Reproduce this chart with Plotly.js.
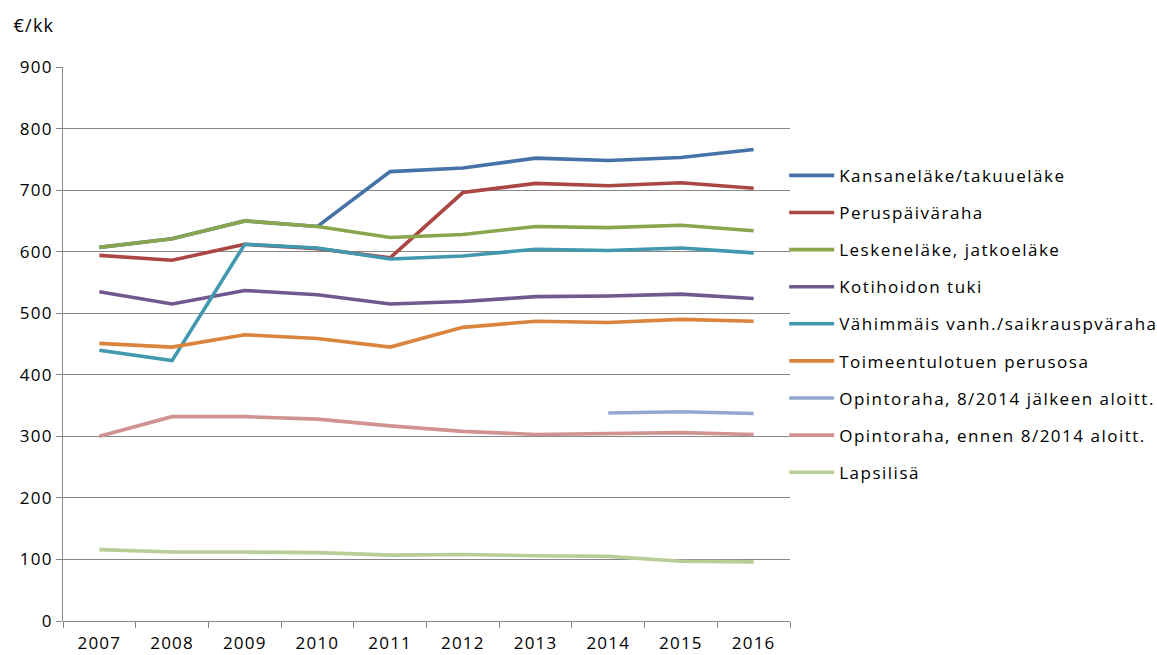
<!DOCTYPE html>
<html>
<head>
<meta charset="utf-8">
<script src="https://cdn.plot.ly/plotly-3.0.1.min.js"></script>
<style>html,body{margin:0;padding:0;background:#fff;}#chart{width:1157px;height:655px;}
#chart text{letter-spacing:1.2px;}
#chart .legend text{letter-spacing:1.5px;}
#chart .legend, #chart .legend .scrollbox, #chart .legend g{clip-path:none !important;}</style>
</head>
<body>
<div id="chart"></div>
<script>
const years = ['2007','2008','2009','2010','2011','2012','2013','2014','2015','2016'];
const seriesNames = ['Kansaneläke/takuueläke','Peruspäiväraha','Leskeneläke, jatkoeläke','Kotihoidon tuki','Vähimmäis vanh./saikrauspväraha','Toimeentulotuen perusosa','Opintoraha, 8/2014 jälkeen aloitt.','Opintoraha, ennen 8/2014 aloitt.','Lapsilisä'];
const kansanelake = [607, 621, 650, 641, 730, 736, 752, 748, 753, 766];
const peruspaivaraha = [594, 586, 612, 605, 590, 696, 711, 707, 712, 703];
const leskenelake = [607, 621, 650, 641, 623, 628, 641, 639, 643, 634];
const kotihoidon = [535, 515, 537, 530, 515, 519, 527, 528, 531, 524];
const vahimmais = [440, 423, 612, 606, 588, 593, 604, 602, 606, 598];
const toimeentulo = [451, 445, 465, 459, 445, 477, 487, 485, 490, 487];
const opintorahaUusi = [null, null, null, null, null, null, null, 338, 340, 337];
const opintorahaVanha = [300, 332, 332, 328, 317, 308, 303, 304, 306, 303];
const lapsilisa = [116, 112, 112, 111, 107, 108, 106, 105, 97, 96];
const colors = ['#4572A7','#AA4643','#89A54E','#71588F','#4198AF','#DB843D','#93A9CF','#D19392','#B9CD96'];

const allValues = [kansanelake, peruspaivaraha, leskenelake, kotihoidon, vahimmais, toimeentulo, opintorahaUusi, opintorahaVanha, lapsilisa];
const traces = allValues.map((vals, i) => ({
  type: 'scatter', mode: 'lines', x: years, y: vals, name: seriesNames[i],
  legendgroup: 'g' + i,
  line: {color: colors[i], width: 3.6},
  connectgaps: false
}));

const layout = {
  width: 1157, height: 655,
  margin: {l: 63, r: 367, t: 67, b: 34},
  paper_bgcolor: '#fff', plot_bgcolor: '#fff',
  font: {family: 'Open Sans, sans-serif', size: 17, color: '#000'},
  showlegend: true,
  legend: {x: 0.992, xanchor: 'left', y: 0.836, yanchor: 'top', font: {size: 17, color: '#000'},
           tracegroupgap: 12, itemwidth: 45, bgcolor: 'rgba(0,0,0,0)'},
  xaxis: {type: 'category', tickson: 'boundaries', ticks: 'outside', ticklen: 6, tickcolor: '#888',
          showgrid: false, showline: false, zeroline: false, tickfont: {size: 17}, range: [-0.5, 9.5],
          ticklabelstandoff: 10},
  yaxis: {range: [0, 900], dtick: 100, ticks: 'outside', ticklen: 6, tickcolor: '#888',
          showline: true, linecolor: '#888', linewidth: 1, gridcolor: '#888', gridwidth: 1,
          zeroline: true, zerolinecolor: '#888', zerolinewidth: 1, tickfont: {size: 17}},
  annotations: [{text: '€/kk', xref: 'paper', yref: 'paper', x: -0.068, y: 1.05, xanchor: 'left', yanchor: 'bottom',
                 showarrow: false, font: {size: 18, color: '#000'}}]
};
Plotly.newPlot('chart', traces, layout, {displayModeBar: false, staticPlot: true});
</script>
</body>
</html>
